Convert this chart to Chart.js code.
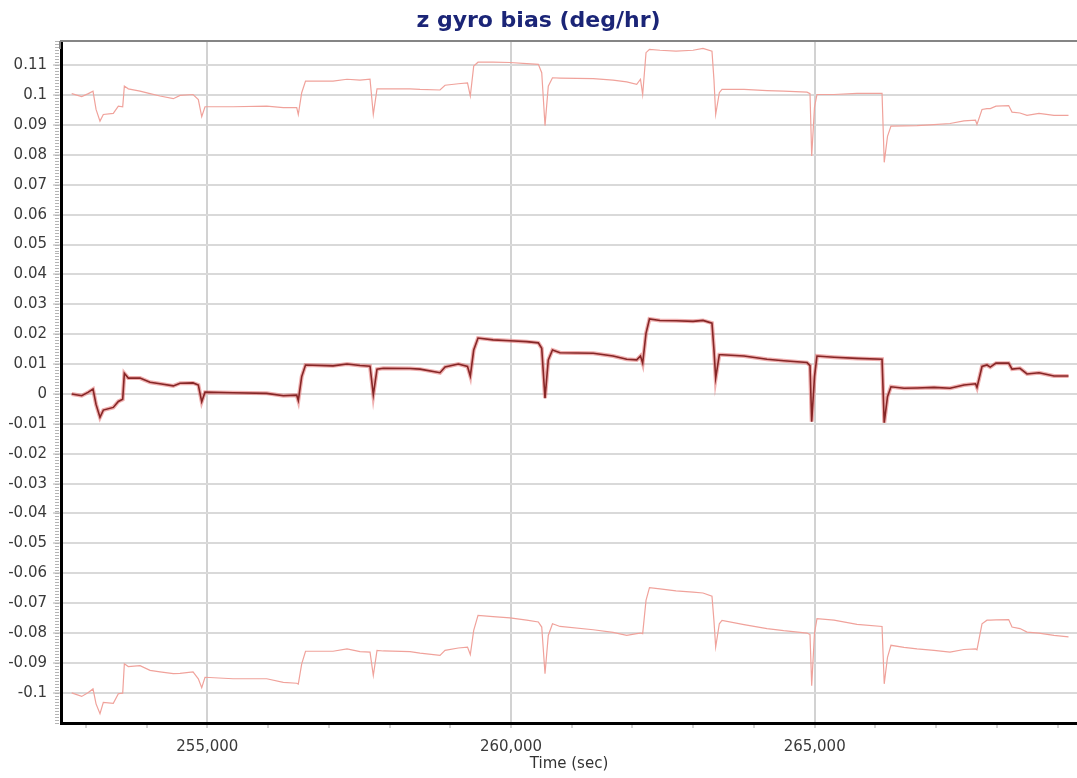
<!DOCTYPE html>
<html>
<head>
<meta charset="utf-8">
<script src="https://cdn.jsdelivr.net/npm/chart.js@4.4.1/dist/chart.umd.min.js"></script>
<style>
  html, body { margin: 0; padding: 0; background: #ffffff; }
  #wrap { position: relative; width: 1077px; height: 778px; }
</style>
</head>
<body>
<div id="wrap"><canvas id="c"></canvas></div>
<script>
// ---- data ----
const chartTitle = 'z gyro bias (deg/hr)';
const xTitle = 'Time (sec)';

const timeSec = [
  252767, 252932, 253041, 253118, 253168, 253233, 253288, 253452, 253535, 253607,
  253634, 253699, 253892, 254057, 254221, 254440, 254551, 254765, 254852, 254908,
  254962, 255423, 255978, 256251, 256472, 256498, 256554, 256617, 257070, 257300,
  257514, 257679, 257733, 257794, 257898, 258337, 258502, 258831, 258914, 259133,
  259284, 259330, 259386, 259457, 259704, 259984, 260259, 260450, 260506, 260560,
  260614, 260683, 260807, 261355, 261680, 261905, 262070, 262132, 262168, 262223,
  262280, 262453, 262717, 262997, 263161, 263309, 263342, 263370, 263430, 263474,
  263836, 264215, 264490, 264874, 264923, 264951, 264997, 265038, 265318, 265697,
  266109, 266145, 266199, 266256, 266471, 266685, 266964, 267228, 267458, 267648,
  267672, 267755, 267837, 267891, 267985, 268194, 268249, 268380, 268496, 268693,
  268940, 269179
];

const biasEstimate = [
  0.0000, -0.0006, 0.0006, 0.0016, -0.0035, -0.0078, -0.0054, -0.0045, -0.0025, -0.0018,
  0.0069, 0.0053, 0.0053, 0.0039, 0.0034, 0.0027, 0.0036, 0.0037, 0.0030, -0.0026,
  0.0006, 0.0004, 0.0002, -0.0006, -0.0004, -0.0022, 0.0058, 0.0097, 0.0094, 0.0100,
  0.0095, 0.0093, -0.0003, 0.0083, 0.0086, 0.0085, 0.0083, 0.0071, 0.0090, 0.0100,
  0.0092, 0.0060, 0.0147, 0.0187, 0.0181, 0.0178, 0.0175, 0.0171, 0.0153, -0.0014,
  0.0114, 0.0147, 0.0138, 0.0136, 0.0127, 0.0116, 0.0114, 0.0127, 0.0103, 0.0203,
  0.0251, 0.0246, 0.0245, 0.0243, 0.0246, 0.0237, 0.0147, 0.0053, 0.0131, 0.0131,
  0.0127, 0.0116, 0.0111, 0.0105, 0.0095, -0.0093, 0.0058, 0.0127, 0.0123, 0.0119,
  0.0116, -0.0096, -0.0009, 0.0024, 0.0019, 0.0020, 0.0022, 0.0019, 0.0030, 0.0034,
  0.0022, 0.0092, 0.0097, 0.0090, 0.0103, 0.0103, 0.0083, 0.0086, 0.0067, 0.0071,
  0.0060, 0.0060
];

const upperBound = [
  0.1005, 0.0995, 0.1005, 0.1013, 0.0952, 0.0913, 0.0935, 0.0939, 0.0963, 0.0961,
  0.1030, 0.1021, 0.1013, 0.1005, 0.0997, 0.0988, 0.0999, 0.1002, 0.0985, 0.0928,
  0.0961, 0.0961, 0.0963, 0.0958, 0.0958, 0.0935, 0.1008, 0.1047, 0.1047, 0.1053,
  0.1050, 0.1053, 0.0935, 0.1021, 0.1021, 0.1021, 0.1019, 0.1017, 0.1033, 0.1038,
  0.1041, 0.0997, 0.1097, 0.1110, 0.1110, 0.1109, 0.1105, 0.1103, 0.1075, 0.0898,
  0.1030, 0.1058, 0.1057, 0.1055, 0.1050, 0.1044, 0.1036, 0.1053, 0.1002, 0.1142,
  0.1153, 0.1150, 0.1147, 0.1150, 0.1156, 0.1147, 0.1050, 0.0935, 0.1008, 0.1019,
  0.1019, 0.1015, 0.1013, 0.1010, 0.1005, 0.0796, 0.0960, 0.1002, 0.1002, 0.1006,
  0.1006, 0.0775, 0.0862, 0.0896, 0.0897, 0.0898, 0.0901, 0.0905, 0.0914, 0.0916,
  0.0902, 0.0952, 0.0955, 0.0955, 0.0963, 0.0965, 0.0943, 0.0940, 0.0932, 0.0939,
  0.0932, 0.0932
];

const lowerBound = [
  -0.1000, -0.1012, -0.0999, -0.0987, -0.1037, -0.1070, -0.1032, -0.1035, -0.1003, -0.1001,
  -0.0903, -0.0912, -0.0909, -0.0925, -0.0930, -0.0936, -0.0935, -0.0930, -0.0953, -0.0983,
  -0.0948, -0.0953, -0.0953, -0.0965, -0.0968, -0.0971, -0.0903, -0.0861, -0.0861, -0.0853,
  -0.0862, -0.0864, -0.0942, -0.0858, -0.0860, -0.0862, -0.0867, -0.0875, -0.0858, -0.0850,
  -0.0847, -0.0872, -0.0791, -0.0741, -0.0745, -0.0749, -0.0757, -0.0763, -0.0780, -0.0936,
  -0.0808, -0.0769, -0.0778, -0.0789, -0.0798, -0.0808, -0.0802, -0.0800, -0.0802, -0.0691,
  -0.0648, -0.0652, -0.0659, -0.0663, -0.0666, -0.0677, -0.0760, -0.0847, -0.0769, -0.0758,
  -0.0772, -0.0785, -0.0792, -0.0800, -0.0805, -0.0976, -0.0800, -0.0752, -0.0757, -0.0771,
  -0.0778, -0.0970, -0.0881, -0.0841, -0.0848, -0.0853, -0.0858, -0.0864, -0.0855, -0.0853,
  -0.0856, -0.0769, -0.0757, -0.0757, -0.0756, -0.0755, -0.0780, -0.0785, -0.0797, -0.0800,
  -0.0808, -0.0813
];

const yTickValues = [-0.1, -0.09, -0.08, -0.07, -0.06, -0.05, -0.04, -0.03, -0.02, -0.01,
  0, 0.01, 0.02, 0.03, 0.04, 0.05, 0.06, 0.07, 0.08, 0.09, 0.1, 0.11];
const xMajorTicks = [255000, 260000, 265000];
const xMinorTicks = [253000, 254000, 255000, 256000, 257000, 258000, 259000, 260000,
  261000, 262000, 263000, 264000, 265000, 266000, 267000, 268000, 269000];

const xRange = { min: 252591, max: 269319 };
const yRange = { min: -0.1101, max: 0.1181 };

// ---- build chart ----
const pts = arr => timeSec.map((t, i) => ({ x: t, y: arr[i] }));

const frameAndMinorTicks = {
  id: 'frameAndMinorTicks',
  afterDraw(chart) {
    const { ctx, chartArea } = chart;
    const ys = chart.scales.y;
    ctx.save();
    // minor ticks along the left axis
    ctx.strokeStyle = '#b4b4b4';
    ctx.lineWidth = 1;
    ctx.beginPath();
    for (let k = -110; k <= 118; k++) {
      const py = Math.round(ys.getPixelForValue(k / 1000)) + 0.5;
      ctx.moveTo(chartArea.left - 6, py);
      ctx.lineTo(chartArea.left - 2, py);
    }
    ctx.stroke();
    // top frame line
    ctx.strokeStyle = '#858585';
    ctx.lineWidth = 2;
    ctx.beginPath();
    ctx.moveTo(chartArea.left - 1, chartArea.top);
    ctx.lineTo(chartArea.right, chartArea.top);
    ctx.moveTo(chartArea.left - 1, chartArea.top);
    ctx.lineTo(chartArea.left - 1, chartArea.top + 8);
    ctx.stroke();
    ctx.restore();
  }
};

new Chart(document.getElementById('c'), {
  type: 'line',
  data: {
    datasets: [
      { label: 'estimate', data: pts(biasEstimate), borderColor: '#862626', borderWidth: 1.6, order: 0 },
      { label: 'estimate halo', data: pts(biasEstimate), borderColor: 'rgba(226,110,110,0.55)', borderWidth: 4, order: 1 },
      { label: 'upper', data: pts(upperBound), borderColor: '#f0a29b', borderWidth: 1.2, order: 2 },
      { label: 'lower', data: pts(lowerBound), borderColor: '#f0a29b', borderWidth: 1.2, order: 3 }
    ]
  },
  options: {
    responsive: true,
    maintainAspectRatio: false,
    animation: false,
    elements: { point: { radius: 0, hoverRadius: 0 }, line: { tension: 0 } },
    layout: { padding: 0 },
    plugins: {
      legend: { display: false },
      tooltip: { enabled: false },
      title: {
        display: true,
        text: chartTitle,
        color: '#1b2577',
        font: { family: 'DejaVu Sans', size: 22, weight: 'bold', lineHeight: 1.2 },
        padding: { top: 8, bottom: 6.6 }
      }
    },
    scales: {
      x: {
        type: 'linear',
        min: xRange.min,
        max: xRange.max,
        afterBuildTicks: s => { s.ticks = xMinorTicks.map(v => ({ value: v })); },
        afterFit: s => { s.height = 55; },
        ticks: {
          autoSkip: false,
          maxRotation: 0,
          padding: 10,
          color: '#3a3a3a',
          font: { family: 'DejaVu Sans', size: 15 },
          callback: v => xMajorTicks.includes(v) ? v.toLocaleString('en-US') : ''
        },
        grid: {
          color: c => (c.tick && xMajorTicks.includes(c.tick.value)) ? '#d2d2d2' : 'rgba(0,0,0,0)',
          lineWidth: 2,
          drawTicks: true,
          tickLength: 5,
          tickColor: '#a8a8a8',
          tickWidth: 1
        },
        border: { display: true, color: '#000000', width: 3 },
        title: {
          display: true,
          text: xTitle,
          color: '#333333',
          font: { family: 'DejaVu Sans', size: 15 },
          padding: { top: 0, bottom: 5 }
        }
      },
      y: {
        type: 'linear',
        min: yRange.min,
        max: yRange.max,
        afterBuildTicks: s => { s.ticks = yTickValues.map(v => ({ value: v })); },
        afterFit: s => { s.width = 61; },
        ticks: {
          autoSkip: false,
          padding: 6,
          color: '#3a3a3a',
          font: { family: 'DejaVu Sans', size: 15 },
          callback: v => String(Math.round(v * 100) / 100)
        },
        grid: {
          color: '#d9d9d9',
          lineWidth: 2,
          drawTicks: true,
          tickLength: 8,
          tickColor: '#b0b0b0',
          tickWidth: 1
        },
        border: { display: true, color: '#000000', width: 3 }
      }
    }
  },
  plugins: [frameAndMinorTicks]
});
</script>
</body>
</html>
